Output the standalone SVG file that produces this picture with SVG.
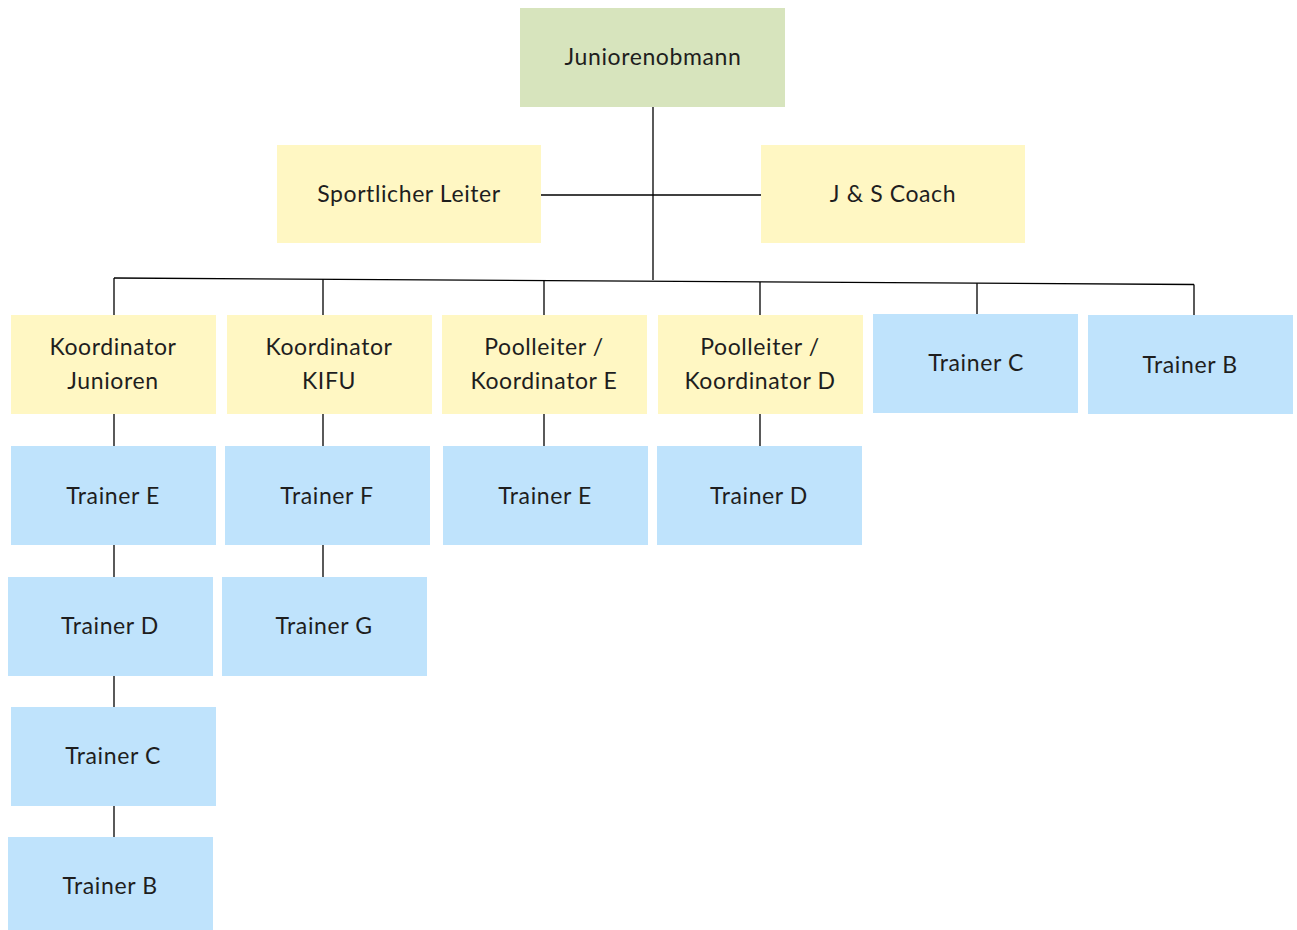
<svg xmlns="http://www.w3.org/2000/svg" width="1297" height="930" viewBox="0 0 1297 930">
<style>
.g{fill:#D7E4BD}
.y{fill:#FFF7C3}
.b{fill:#BFE3FC}
text{font-family:Lato,"Noto Sans","Liberation Sans",sans-serif;font-size:23px;letter-spacing:0.6px;fill:#1e1e1e;text-anchor:middle;dominant-baseline:central}
.c line{stroke:#000;stroke-width:1.3}
</style>
<rect width="1297" height="930" fill="#fff"/>
<g class="c" id="connectors">
<line x1="653" y1="106" x2="653" y2="280"/>
<line x1="541" y1="195" x2="761" y2="195"/>
<line x1="114" y1="278" x2="1194" y2="284.5"/>
<line x1="114" y1="278" x2="114" y2="315"/>
<line x1="323" y1="279.3" x2="323" y2="315"/>
<line x1="544" y1="280.6" x2="544" y2="315"/>
<line x1="760" y1="281.9" x2="760" y2="315"/>
<line x1="977" y1="283.2" x2="977" y2="314"/>
<line x1="1194" y1="284.5" x2="1194" y2="315"/>
<line x1="114" y1="414" x2="114" y2="446"/>
<line x1="114" y1="545" x2="114" y2="577"/>
<line x1="114" y1="676" x2="114" y2="707"/>
<line x1="114" y1="806" x2="114" y2="837"/>
<line x1="323" y1="414" x2="323" y2="446"/>
<line x1="323" y1="545" x2="323" y2="577"/>
<line x1="544" y1="414" x2="544" y2="446"/>
<line x1="760" y1="414" x2="760" y2="446"/>
</g>
<g id="n-juniorenobmann"><rect class="g" x="520" y="8" width="265" height="99"/><text x="653" y="56">Juniorenobmann</text></g>
<g id="n-sportlicher-leiter"><rect class="y" x="277" y="145" width="264" height="98"/><text x="409" y="193">Sportlicher Leiter</text></g>
<g id="n-js-coach"><rect class="y" x="761" y="145" width="264" height="98"/><text x="893" y="193">J &amp; S Coach</text></g>
<g id="n-koord-junioren"><rect class="y" x="11" y="315" width="205" height="99"/><text x="113" y="346">Koordinator</text><text x="113" y="380">Junioren</text></g>
<g id="n-koord-kifu"><rect class="y" x="227" y="315" width="205" height="99"/><text x="329" y="346">Koordinator</text><text x="329" y="380">KIFU</text></g>
<g id="n-pool-e"><rect class="y" x="442" y="315" width="205" height="99"/><text x="544" y="346">Poolleiter /</text><text x="544" y="380">Koordinator E</text></g>
<g id="n-pool-d"><rect class="y" x="658" y="315" width="205" height="99"/><text x="760" y="346">Poolleiter /</text><text x="760" y="380">Koordinator D</text></g>
<g id="n-trainer-c-top"><rect class="b" x="873" y="314" width="205" height="99"/><text x="976" y="362">Trainer C</text></g>
<g id="n-trainer-b-top"><rect class="b" x="1088" y="315" width="205" height="99"/><text x="1190" y="364">Trainer B</text></g>
<g id="n-trainer-e-1"><rect class="b" x="11" y="446" width="205" height="99"/><text x="113" y="495">Trainer E</text></g>
<g id="n-trainer-f"><rect class="b" x="225" y="446" width="205" height="99"/><text x="327" y="495">Trainer F</text></g>
<g id="n-trainer-e-2"><rect class="b" x="443" y="446" width="205" height="99"/><text x="545" y="495">Trainer E</text></g>
<g id="n-trainer-d-2"><rect class="b" x="657" y="446" width="205" height="99"/><text x="759" y="495">Trainer D</text></g>
<g id="n-trainer-d-1"><rect class="b" x="8" y="577" width="205" height="99"/><text x="110" y="625">Trainer D</text></g>
<g id="n-trainer-g"><rect class="b" x="222" y="577" width="205" height="99"/><text x="324" y="625">Trainer G</text></g>
<g id="n-trainer-c-1"><rect class="b" x="11" y="707" width="205" height="99"/><text x="113" y="755">Trainer C</text></g>
<g id="n-trainer-b-1"><rect class="b" x="8" y="837" width="205" height="93"/><text x="110" y="885">Trainer B</text></g>
</svg>
